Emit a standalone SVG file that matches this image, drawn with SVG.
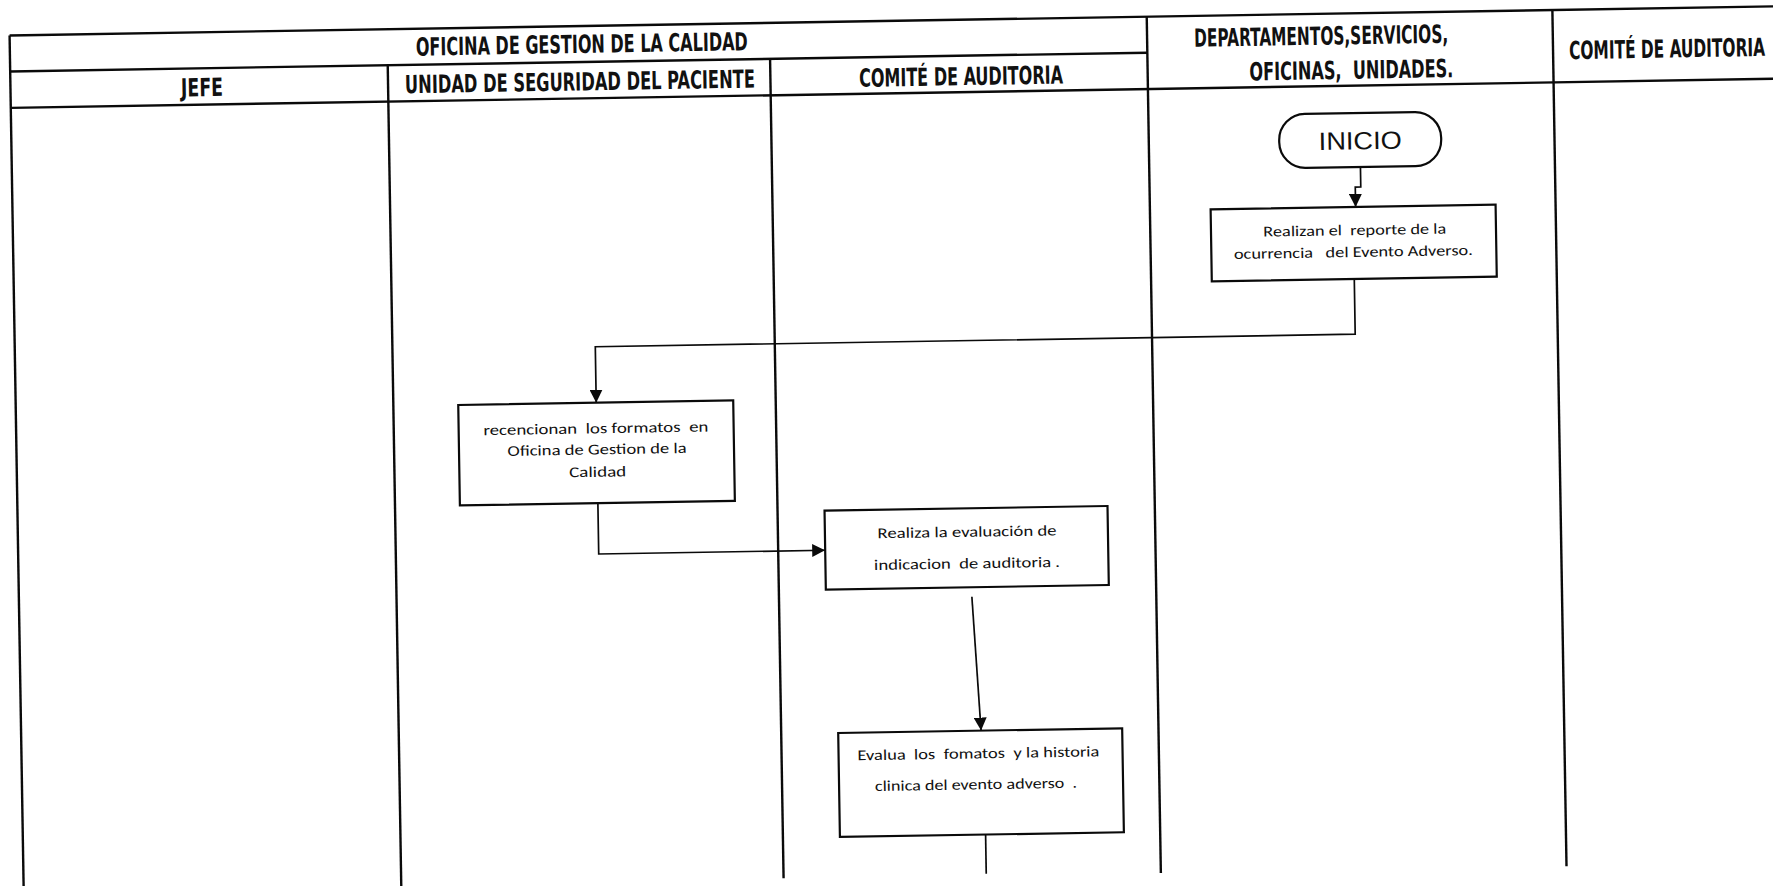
<svg xmlns="http://www.w3.org/2000/svg" width="1773" height="886" viewBox="0 0 1773 886">
  <style>
    text { white-space: pre; }
    .grid { stroke: #0a0a0a; stroke-width: 2.4; fill: none; }
    .hd { font-family: "DejaVu Sans Condensed", "DejaVu Sans", sans-serif; font-weight: bold; font-size: 25px; fill: #111; }
    .box { fill: #fff; stroke: #0a0a0a; stroke-width: 2.2; }
    .tx { font-family: Carlito, Lato, "Liberation Sans", sans-serif; font-size: 15px; fill: #111; text-anchor: middle; }
    .term { font-family: "Liberation Sans", Arial, sans-serif; font-size: 25px; fill: #111; text-anchor: middle; }
    .cn { stroke: #0a0a0a; stroke-width: 1.7; fill: none; }
  </style>
  <defs>
    <marker id="arrow" viewBox="0 0 12 12" refX="12" refY="6" markerWidth="13" markerHeight="13" markerUnits="userSpaceOnUse" orient="auto">
      <path d="M0,0 L12,6 L0,12 Z" fill="#0a0a0a"/>
    </marker>
  </defs>
  <rect width="1773" height="886" fill="#fff"/>

  <!-- whole sheet sits slightly rotated on the page -->
  <g transform="rotate(-0.945)">

    <!-- swimlane grid -->
    <g id="lanes">
      <path class="grid" d="M9,35.6 H1800"/>
      <path class="grid" d="M9,71.6 H1146.3"/>
      <path class="grid" d="M9,108 H1800"/>
      <path class="grid" d="M9,35.6 V895"/>
      <path class="grid" d="M386.6,71.6 V895"/>
      <path class="grid" d="M769,71.6 V891"/>
      <path class="grid" d="M1146.3,35.6 V892"/>
      <path class="grid" d="M1552,35.6 V892"/>
    </g>

    <!-- lane headings -->
    <g id="headings">
      <text class="hd" x="581" y="62.5" text-anchor="middle" textLength="332" lengthAdjust="spacingAndGlyphs">OFICINA DE GESTION DE LA CALIDAD</text>
      <text class="hd" x="200.5" y="99.5" text-anchor="middle" textLength="42" lengthAdjust="spacingAndGlyphs">JEFE</text>
      <text class="hd" x="578.5" y="100" text-anchor="middle" textLength="350" lengthAdjust="spacingAndGlyphs">UNIDAD DE SEGURIDAD DEL PACIENTE</text>
      <text class="hd" x="959.6" y="101" text-anchor="middle" textLength="204" lengthAdjust="spacingAndGlyphs">COMITÉ DE AUDITORIA</text>
      <text class="hd" x="1320.4" y="66.5" text-anchor="middle" textLength="254" lengthAdjust="spacingAndGlyphs">DEPARTAMENTOS,SERVICIOS,</text>
      <text class="hd" x="1350" y="101" text-anchor="middle" textLength="204" lengthAdjust="spacingAndGlyphs">OFICINAS,  UNIDADES.</text>
      <text class="hd" transform="translate(1568,85) scale(0.66,1)" textLength="297" lengthAdjust="spacingAndGlyphs">COMITÉ DE AUDITORIA</text>
    </g>

    <!-- flow connectors -->
    <g id="connectors">
      <path class="cn" d="M1357.5,189.4 V209.4 H1352 V229.3" marker-end="url(#arrow)"/>
      <path class="cn" d="M1349.5,301.3 V356.5 H589.5 V412.5" marker-end="url(#arrow)"/>
      <path class="cn" d="M589.5,513 V563.8 H816" marker-end="url(#arrow)"/>
      <path class="cn" d="M961.9,612.7 L968.9,746.7" marker-end="url(#arrow)"/>
      <path class="cn" d="M971.7,850.7 V890"/>
    </g>

    <g id="inicio">
      <rect class="box" x="1276.7" y="135.4" width="162" height="54" rx="26" ry="26"/>
      <text class="term" x="1357.7" y="171.7" textLength="83" lengthAdjust="spacingAndGlyphs">INICIO</text>
    </g>

    <g id="reporte">
      <rect class="box" x="1207" y="229.3" width="285" height="72"/>
      <text class="tx" x="1350.8" y="257.4" textLength="183" lengthAdjust="spacingAndGlyphs">Realizan el  reporte de la</text>
      <text class="tx" x="1349" y="279.3" textLength="239" lengthAdjust="spacingAndGlyphs">ocurrencia   del Evento Adverso.</text>
    </g>

    <g id="recepcion">
      <rect class="box" x="451.5" y="412.5" width="275" height="100.5"/>
      <text class="tx" x="588.7" y="443.1" textLength="225" lengthAdjust="spacingAndGlyphs">recencionan  los formatos  en</text>
      <text class="tx" x="589.5" y="464.2" textLength="179" lengthAdjust="spacingAndGlyphs">Oficina de Gestion de la</text>
      <text class="tx" x="589.8" y="486.6" textLength="57" lengthAdjust="spacingAndGlyphs">Calidad</text>
    </g>

    <g id="evaluacion">
      <rect class="box" x="816" y="524.2" width="283" height="79"/>
      <text class="tx" x="958.1" y="552.7" textLength="179" lengthAdjust="spacingAndGlyphs">Realiza la evaluación de</text>
      <text class="tx" x="957.6" y="584.3" textLength="186" lengthAdjust="spacingAndGlyphs">indicacion  de auditoria .</text>
    </g>

    <g id="evalua-formatos">
      <rect class="box" x="826" y="746.7" width="284" height="104"/>
      <text class="tx" x="965.8" y="774.4" textLength="242" lengthAdjust="spacingAndGlyphs">Evalua  los  fomatos  y la historia</text>
      <text class="tx" x="962.9" y="805.4" textLength="202" lengthAdjust="spacingAndGlyphs">clinica del evento adverso  .</text>
    </g>
  </g>
</svg>
